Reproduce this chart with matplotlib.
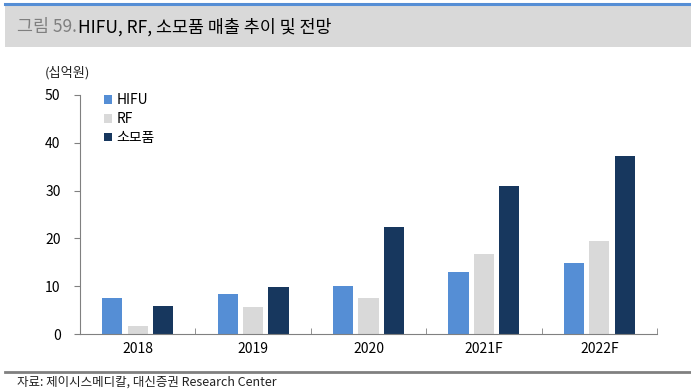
import numpy as np
import matplotlib
matplotlib.use("Agg")
import matplotlib.pyplot as plt
from matplotlib.patches import Rectangle
from matplotlib.lines import Line2D

plt.rcParams['font.family'] = ['Noto Sans CJK KR', 'DejaVu Sans']

# data (십억원)
years = ['2018', '2019', '2020', '2021F', '2022F']
hifu = [7.5, 8.4, 10.0, 13.0, 14.9]
rf = [1.7, 5.6, 7.5, 16.7, 19.5]
consumables = [5.9, 9.8, 22.4, 31.0, 37.2]
series_names = ['HIFU', 'RF', '소모품']
colors = ['#558ED5', '#D9D9D9', '#17375E']

fig = plt.figure(figsize=(6.91, 3.92), dpi=100)

# title band
fig.patches.append(Rectangle((5/691, 1-47/392), 686/691, 42/392, transform=fig.transFigure,
                             facecolor='#D9D9D9', edgecolor='none', zorder=0))
fig.add_artist(Line2D([5/691, 1], [1-4/392, 1-4/392], color='#558ED5', lw=2.2))
fig.text(17/691, 1-27/392, '그림 59.', fontsize=12.5, color='#7F7F7F', va='center', ha='left')
fig.text(78/691, 1-27/392, 'HIFU, RF, 소모품 매출 추이 및 전망', fontsize=12.5, color='#000000',
         va='center', ha='left', fontweight='medium')

ax = fig.add_axes([80/691, 1-334/392, 577/691, 239/392])
x = np.arange(len(years))
w = 0.175
offs = 0.22
for i, (vals, name, c) in enumerate(zip([hifu, rf, consumables], series_names, colors)):
    ax.bar(x + (i-1)*offs, vals, width=w, color=c, label=name, zorder=2)

ax.set_xlim(-0.5, len(years)-0.5)
ax.set_ylim(0, 50)
ax.set_yticks(range(0, 51, 10))
ax.set_xticks(x)
ax.set_xticklabels(years, fontsize=10)
ax.tick_params(axis='x', length=0, pad=6)
ax.set_xticks(np.arange(-0.5, len(years), 1), minor=True)
ax.tick_params(axis='x', which='minor', length=4, color='#808080', direction='in')
ax.tick_params(axis='y', length=4, color='#808080', labelsize=10, pad=10)
for s in ['top', 'right']:
    ax.spines[s].set_visible(False)
ax.spines['left'].set_color('#808080')
ax.spines['bottom'].set_color('#808080')

fig.text(45/691, 1-73/392, '(십억원)', fontsize=9.5, va='center', ha='left', color='#222222')

leg = ax.legend(loc='upper left', bbox_to_anchor=(0.02, 1.06), frameon=False, fontsize=10,
                handlelength=0.6, handleheight=0.6, handletextpad=0.3, labelspacing=0.35)

fig.add_artist(Line2D([5/691, 1], [1-372/392, 1-372/392], color='#808080', lw=2))
fig.text(17/691, 1-382/392, '자료: 제이시스메디칼, 대신증권 Research Center', fontsize=9,
         va='center', ha='left', color='#222222')

fig.savefig('out.png', dpi=100)
